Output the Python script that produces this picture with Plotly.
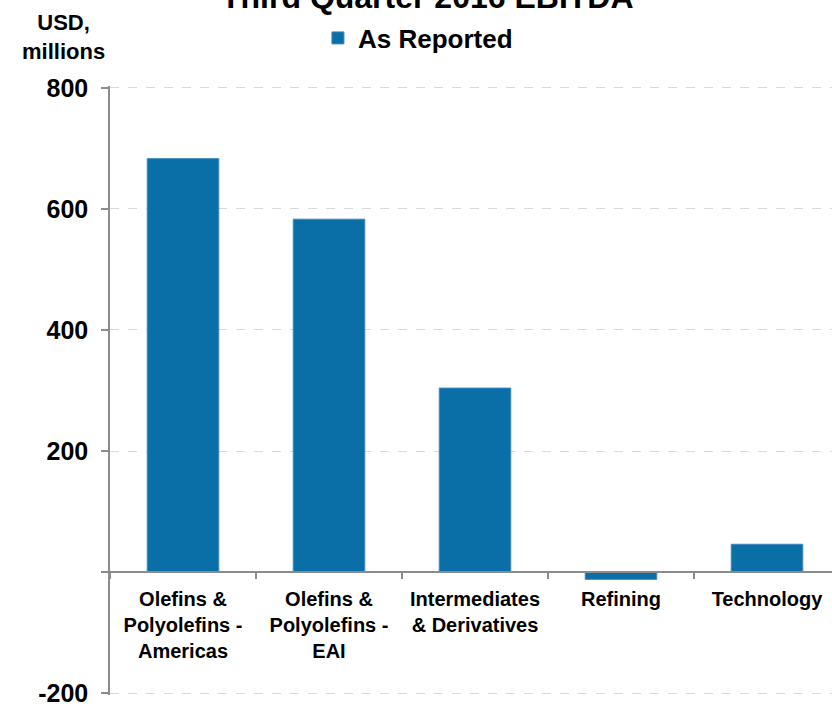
import plotly.graph_objects as go

categories = [
    "Olefins &<br>Polyolefins -<br>Americas",
    "Olefins &<br>Polyolefins -<br>EAI",
    "Intermediates<br>& Derivatives",
    "Refining",
    "Technology",
]
as_reported = [683, 583, 304, -12, 46]
y_tickvals = [-200, 0, 200, 400, 600, 800]
y_ticktext = ["-200", "", "200", "400", "600", "800"]

FONT = "Liberation Sans, Arial, sans-serif"
BAR = "#0B6FA7"
AXIS = "#8C8C8C"

T, B = 86, 9
H = 704 - T - B
YMIN, YMAX = -203, 803

fig = go.Figure()
fig.add_trace(go.Bar(
    x=categories, y=as_reported, name="As Reported",
    marker=dict(color=BAR, line=dict(color="#3D88B8", width=1)),
    width=0.49,
))

fig.update_layout(
    width=832, height=704,
    margin=dict(l=110, r=0, t=T, b=B, autoexpand=False),
    paper_bgcolor="white", plot_bgcolor="white",
    font=dict(family=FONT, color="black"),
    showlegend=True,
    legend=dict(
        orientation="h", x=0.288, xanchor="left", y=1 + (T - 38) / H, yanchor="middle",
        font=dict(family=FONT, size=26, weight="bold", color="black"),
        bgcolor="rgba(0,0,0,0)",
    ),
    bargap=0.5,
)

fig.update_xaxes(
    type="category", range=[-0.5, 4.5 - 8/146],
    anchor="free", position=(0 - YMIN) / (YMAX - YMIN),
    showline=True, linecolor=AXIS, linewidth=1.5,
    ticks="outside", ticklen=6, tickcolor=AXIS, tickwidth=1.5,
    tickson="boundaries",
    showgrid=False, automargin=False,
    tickfont=dict(family=FONT, size=20, weight="bold", color="black"),
    tickangle=0, ticklabelstandoff=9,
)
fig.update_yaxes(
    range=[YMIN, YMAX],
    tickvals=y_tickvals, ticktext=y_ticktext,
    showline=True, linecolor=AXIS, linewidth=1.5,
    ticks="outside", ticklen=7, tickcolor=AXIS, tickwidth=1.5,
    showgrid=True, gridcolor="#D9D9D9", gridwidth=1, griddash="dash",
    zeroline=False, automargin=False, ticklabeloverflow="allow",
    tickfont=dict(family=FONT, size=25, weight="bold", color="black"),
    ticklabelstandoff=8,
)

# chart title (cut off at the top edge, as in the reference)
fig.add_annotation(
    text="Third Quarter 2016 EBITDA", xref="paper", yref="paper",
    x=(427 - 110) / 722, y=1 + (T - 17) / H,
    xanchor="center", yanchor="bottom", showarrow=False,
    font=dict(family=FONT, size=32, weight="bold", color="black"),
)

fig.add_annotation(
    text="USD,<br>millions", xref="paper", yref="paper",
    x=(63 - 110) / 722, y=1 + (T - 37) / H,
    xanchor="center", yanchor="middle", showarrow=False,
    font=dict(family=FONT, size=22, weight="bold", color="black"),
)

fig.write_html(
    "out.html",
    config={"displayModeBar": False},
    post_script="document.body.style.margin='0';document.body.style.overflow='hidden';",
)
